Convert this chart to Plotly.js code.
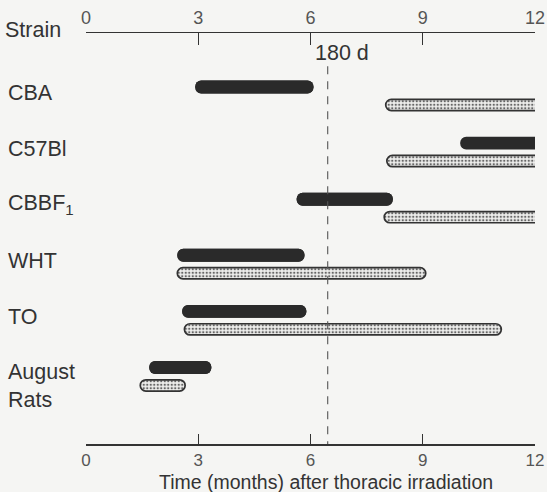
<!DOCTYPE html>
<html><head><meta charset="utf-8">
<script src="https://cdn.plot.ly/plotly-3.0.1.min.js"></script>
<style>html,body{margin:0;padding:0;background:#f5f5f3;}#chart{width:547px;height:492px;}</style>
</head><body><div id="chart"></div>
<script>
// Data (months after thoracic irradiation); a value of 12 means the period runs past the axis end
const strains   = ['CBA', 'C57Bl', 'CBBF<sub>1</sub>', 'WHT', 'TO', 'August<br>Rats'];
const darkStart = [2.92, 10.0, 5.63, 2.44, 2.57, 1.69];
const darkEnd   = [6.08, 12,   8.20, 5.84, 5.89, 3.35];
const dotStart  = [8.01, 8.04, 7.97, 2.44, 2.63, 1.45];
const dotEnd    = [12,   12,   12,   9.08, 11.1, 2.65];
const axisTicks = [0, 3, 6, 9, 12];
const markerDay = 180;          // days
const markerMonths = 6.46;      // position
const axisMax = 12;

const rows = strains.map((s, i) => i);
const dotOff = 0.32;
const dark = '#2a2a2a';
const ink = '#333333';
const yBottom = 6.364, yTop = -0.963;
// open-ended periods are drawn past the axis end so the plot area clips them square
const drawEnd = v => (v >= axisMax ? axisMax + 0.4 : v);

const traces = [];
// dark bars: left-rounded (negative from end) + right-rounded (positive from start)
traces.push({
  type: 'bar', orientation: 'h', y: rows, base: darkEnd.map(drawEnd),
  x: darkEnd.map((e, i) => darkStart[i] - drawEnd(e)),
  width: 0.23, marker: {color: dark, cornerradius: 7, line: {width: 0}},
  hoverinfo: 'skip', showlegend: false
});
const rIdx = rows.filter(i => darkEnd[i] < axisMax);
traces.push({
  type: 'bar', orientation: 'h', y: rIdx, base: rIdx.map(i => darkStart[i]),
  x: rIdx.map(i => darkEnd[i] - darkStart[i]),
  width: 0.23, marker: {color: dark, cornerradius: 7, line: {width: 0}},
  hoverinfo: 'skip', showlegend: false
});
// dotted bars
traces.push({
  type: 'bar', orientation: 'h', y: rows.map(i => i + dotOff), base: dotEnd.map(drawEnd),
  x: dotEnd.map((e, i) => dotStart[i] - drawEnd(e)),
  width: 0.2,
  marker: {color: '#ececea', cornerradius: 6, line: {color: ink, width: 1.7},
           pattern: {shape: '.', fgcolor: '#666', bgcolor: '#eeeeec', size: 3.5, solidity: 0.35}},
  hoverinfo: 'skip', showlegend: false
});
// 180 d marker line
traces.push({
  type: 'scatter', mode: 'lines', xaxis: 'x2', yaxis: 'y',
  x: [markerMonths, markerMonths], y: [-0.37, yBottom],
  line: {color: '#555', width: 1.1, dash: '8px,7px'},
  hoverinfo: 'skip', showlegend: false
});

const fam = 'Liberation Sans, Arial, sans-serif';
const tickFont = {family: fam, size: 17, color: '#555'};
const labFont = {family: fam, size: 21.5, color: ink};

const annotations = strains.map((s, i) => ({
  xref: 'paper', yref: 'y', x: -0.178, y: i + (i === 5 ? 0.33 : 0.1),
  xanchor: 'left', yanchor: 'middle', text: s, showarrow: false, font: labFont, align: 'left'
}));
annotations.push({xref: 'paper', yref: 'paper', x: -0.185, y: 1.008, xanchor: 'left', yanchor: 'middle',
  text: 'Strain', showarrow: false, font: labFont});
annotations.push({xref: 'x', yref: 'y', x: markerMonths, xshift: 14, y: -0.6, xanchor: 'center', yanchor: 'middle',
  text: markerDay + ' d', showarrow: false, font: labFont});
annotations.push({xref: 'paper', yref: 'paper', x: 0.535, y: 0, yshift: -37.5, xanchor: 'center', yanchor: 'middle',
  text: 'Time (months) after thoracic irradiation', showarrow: false, borderpad: 0,
  font: {family: fam, size: 19.5, color: ink}});

const axisCommon = {
  range: [0, axisMax], tickvals: axisTicks, ticktext: axisTicks.map(String),
  ticks: 'inside', ticklen: 12, tickwidth: 1.2, tickcolor: ink,
  showline: true, linecolor: ink, linewidth: 1.5, showgrid: false, zeroline: false,
  tickfont: tickFont, fixedrange: true
};

const layout = {
  width: 547, height: 492,
  margin: {l: 86, r: 12, t: 33, b: 48},
  paper_bgcolor: '#f5f5f3', plot_bgcolor: '#f5f5f3',
  barmode: 'overlay',
  xaxis: Object.assign({}, axisCommon, {side: 'bottom', ticklen: 10}),
  xaxis2: Object.assign({}, axisCommon, {side: 'top', overlaying: 'x', tickfont: {family: fam, size: 18, color: '#555'}}),
  yaxis: {range: [yBottom, yTop], showgrid: false, zeroline: false, showticklabels: false,
          ticks: '', showline: false, fixedrange: true},
  annotations: annotations,
  font: {family: fam}
};

Plotly.newPlot('chart', traces, layout, {displayModeBar: false, staticPlot: true});
</script></body></html>
